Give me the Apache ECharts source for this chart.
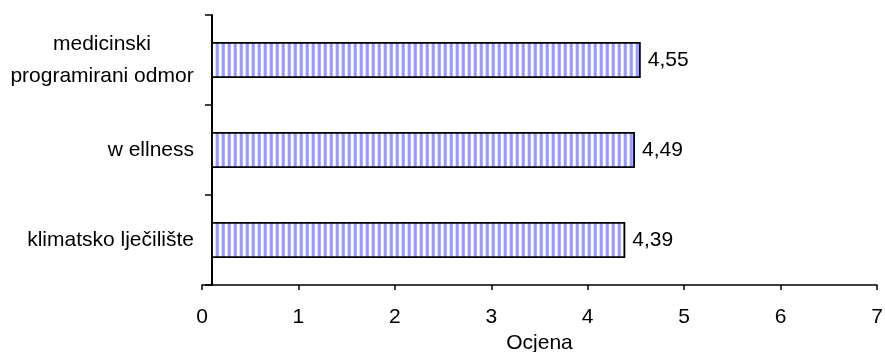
<!DOCTYPE html>
<html>
<head>
<meta charset="utf-8">
<script src="https://cdn.jsdelivr.net/npm/echarts@6/dist/echarts.min.js"></script>
<style>
html,body{margin:0;padding:0;background:#fff;}
#chart{width:885px;height:352px;}
</style>
</head>
<body>
<div id="chart"></div>
<script>
const categories = ['klimatsko lječilište', 'w ellness', 'medicinski\nprogramirani odmor'];
const values = [4.39, 4.49, 4.55];
const xTicks = { min: 0, max: 7, interval: 1 };
const axisName = 'Ocjena';

// layout constants
const G_LEFT = 202, G_TOP = 15, G_W = 675, G_H = 270;
const Y_SHIFT = 10; // y axis sits 10px right of value 0
const PX_PER_UNIT = G_W / (xTicks.max - xTicks.min);
const FONT = "'Liberation Sans', Arial, sans-serif";
const FS = 21;

// stripe pattern
const pc = document.createElement('canvas');
pc.width = 6; pc.height = 4;
const pctx = pc.getContext('2d');
const stripeCols = ['#9999ff', '#9999ff', '#b0b0ff', '#ffffff', '#ffffff', '#dcdcff'];
stripeCols.forEach((c, i) => { pctx.fillStyle = c; pctx.fillRect(i, 0, 1, 4); });

// measure widest line for centered multi-line labels
const mc = document.createElement('canvas').getContext('2d');
mc.font = FS + 'px ' + FONT;
const rich = { c: { align: 'center', fontSize: FS, fontFamily: FONT, color: '#000', lineHeight: 32, width: 180 } };
function catLabel(v) {
  const lines = v.split('\n');
  if (lines.length === 1) return v;
  const w = Math.ceil(Math.max(...lines.map(l => mc.measureText(l).width)));
  rich.c.width = w;
  return lines.map(l => '{c|' + l + '}').join('\n');
}

const chart = echarts.init(document.getElementById('chart'), null, { renderer: 'canvas' });
const formatted = categories.map(catLabel);
chart.setOption({
  animation: false,
  backgroundColor: '#ffffff',
  grid: [
    { left: G_LEFT, top: G_TOP, width: G_W, height: G_H, containLabel: false, outerBoundsMode: 'none' },
    { left: G_LEFT + Y_SHIFT, top: G_TOP, width: G_W - Y_SHIFT, height: G_H, containLabel: false, outerBoundsMode: 'none' }
  ],
  xAxis: [
    {
      gridIndex: 0, type: 'value', min: xTicks.min, max: xTicks.max, interval: xTicks.interval,
      name: axisName, nameLocation: 'middle', nameGap: 46,
      nameTextStyle: { color: '#000', fontSize: FS, fontFamily: FONT },
      axisLine: { show: true, lineStyle: { color: '#000', width: 1.5 } },
      axisTick: { show: true, length: 5, lineStyle: { color: '#000', width: 1.5 } },
      axisLabel: { color: '#000', fontSize: FS, fontFamily: FONT, margin: 22 },
      splitLine: { show: false }
    },
    {
      gridIndex: 1, type: 'value', min: xTicks.min + Y_SHIFT / PX_PER_UNIT, max: xTicks.max,
      show: false
    }
  ],
  yAxis: [
    {
      gridIndex: 0, type: 'category', data: categories, offset: -Y_SHIFT,
      axisLine: { show: true, lineStyle: { color: '#000', width: 2 } },
      axisTick: { show: true, length: 7, alignWithLabel: false, lineStyle: { color: '#000', width: 1.5 } },
      axisLabel: {
        color: '#000', fontSize: FS, fontFamily: FONT, margin: 18, lineHeight: 32, align: 'right',
        formatter: (v, i) => formatted[i], rich: rich
      },
      splitLine: { show: false }
    },
    { gridIndex: 1, type: 'category', data: categories, show: false }
  ],
  series: [{
    type: 'bar',
    xAxisIndex: 1, yAxisIndex: 1,
    data: values,
    barWidth: '40%',
    clip: true,
    itemStyle: {
      color: { image: pc, repeat: 'repeat' },
      borderColor: '#000', borderWidth: 1.8
    },
    label: {
      show: true, position: 'right', distance: 7,
      color: '#000', fontSize: FS, fontFamily: FONT,
      formatter: p => p.value.toFixed(2).replace('.', ',')
    }
  }]
});
</script>
</body>
</html>
